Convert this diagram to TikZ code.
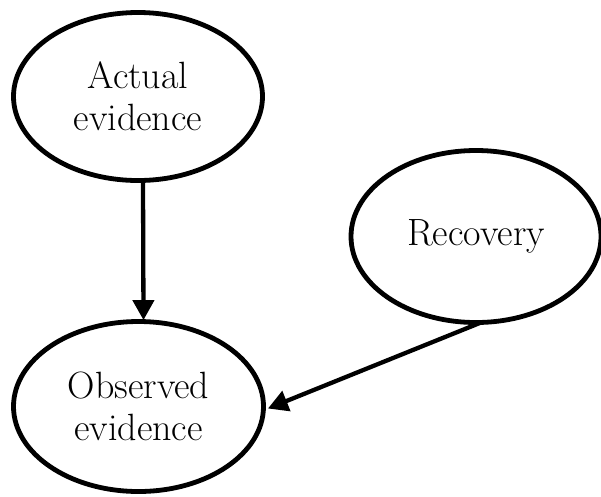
\documentclass[tikz,border=0pt]{standalone}
\usetikzlibrary{shapes.geometric,arrows.meta}
\begin{document}
\begin{tikzpicture}[x=1pt,y=-1pt,
  blob/.style={ellipse,draw,line width=4.8pt,inner sep=0pt,align=center,
    font=\fontsize{38}{42}\selectfont},
  link/.style={line width=4.3pt,-{Triangle[length=20pt,width=21pt]}}]
\useasboundingbox (0,0) rectangle (601,496);
\node[blob,minimum width=249pt,minimum height=168pt] (act) at (138,96.5) {Actual\\evidence};
\node[blob,minimum width=250pt,minimum height=172pt] (rec) at (476,236.5) {Recovery};
\node[blob,minimum width=250pt,minimum height=170pt] (obs) at (138.5,406.5) {Observed\\evidence};
\draw[link] ([xshift=5pt]act.south) -- ([xshift=5pt,yshift=-1pt]obs.north);
\draw[link] ([xshift=4pt,yshift=2pt]rec.south) -- ([xshift=2pt,yshift=-2pt]obs.east);
\end{tikzpicture}
\end{document}
